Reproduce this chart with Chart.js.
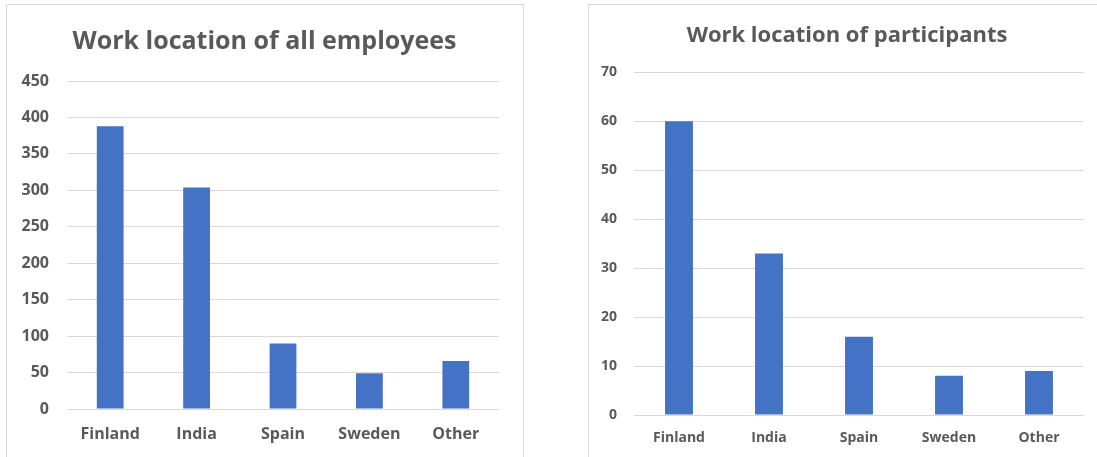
<!DOCTYPE html>
<html>
<head>
<meta charset="utf-8">
<script src="https://cdn.jsdelivr.net/npm/chart.js@4.4.1/dist/chart.umd.min.js"></script>
<style>
  html, body { margin: 0; padding: 0; background: #fff; overflow: hidden; }
  body { width: 1097px; height: 457px; position: relative; }
  .box { position: absolute; border: 1px solid #d9d9d9; background: #fff; }
  #boxL { left: 6px; top: 4px; width: 516px; height: 470px; }
  #boxR { left: 588px; top: 4px; width: 530px; height: 470px; }
  canvas { position: absolute; left: 0; top: 0; }
</style>
</head>
<body>
<div class="box" id="boxL"><canvas id="left" width="515" height="452"></canvas></div>
<div class="box" id="boxR"><canvas id="right" width="516" height="452"></canvas></div>
<script>
const categories = ["Finland", "India", "Spain", "Sweden", "Other"];
const allEmployees = [388, 304, 90, 49, 66];
const participants = [60, 33, 16, 8, 9];
const leftTitle = "Work location of all employees";
const rightTitle = "Work location of participants";

const FONT = "'Open Sans', Lato, sans-serif";
const TEXT = "#595959";
const GRID = "#d9d9d9";
const BAR = "#4472C4";

// center the title across the whole canvas (like the chart frame), not the padded box
const fullWidthTitle = {
  id: "fullWidthTitle",
  afterLayout(chart) {
    const t = chart.titleBlock;
    if (t) { t.left = 0; t.right = chart.width; t.width = chart.width; }
  }
};

function makeChart(id, values, title, o) {
  return new Chart(document.getElementById(id), {
    type: "bar",
    data: {
      labels: categories,
      datasets: [{ data: values, backgroundColor: BAR, borderWidth: 0,
        categoryPercentage: 1, barPercentage: o.barPct }]
    },
    plugins: [fullWidthTitle],
    options: {
      responsive: false,
      animation: false,
      devicePixelRatio: 1,
      layout: { padding: { left: 0, right: o.padRight, top: 0, bottom: 0 } },
      plugins: {
        legend: { display: false },
        tooltip: { enabled: false },
        title: {
          display: true, text: title, color: TEXT,
          font: { family: FONT, size: o.titleSize, weight: "bold", lineHeight: 1.2 },
          padding: { top: o.titleTop, bottom: o.titleBottom }
        }
      },
      scales: {
        x: {
          grid: { display: false, drawTicks: false },
          border: { display: false },
          ticks: { color: TEXT, padding: o.xPad, font: { family: FONT, size: o.tickSize, weight: "bold" } },
          afterFit: s => { s.height = o.xHeight; }
        },
        y: {
          min: 0, max: o.max,
          grid: { color: GRID, lineWidth: 1, drawTicks: false },
          border: { display: false },
          ticks: { stepSize: o.step, color: TEXT, padding: o.yPad, font: { family: FONT, size: o.tickSize, weight: "bold" } },
          afterFit: s => { s.width = o.yWidth; }
        }
      }
    }
  });
}

makeChart("left", allEmployees, leftTitle, {
  barPct: 0.31, padRight: 23, titleSize: 25, titleTop: 22, titleBottom: 24,
  xPad: 16, xHeight: 48, yPad: 18, yWidth: 60, tickSize: 16, max: 450, step: 50
});
makeChart("right", participants, rightTitle, {
  barPct: 0.31, padRight: 21, titleSize: 22, titleTop: 18, titleBottom: 23,
  xPad: 15, xHeight: 42, yPad: 17, yWidth: 45, tickSize: 14, max: 70, step: 10
});
</script>
</body>
</html>
